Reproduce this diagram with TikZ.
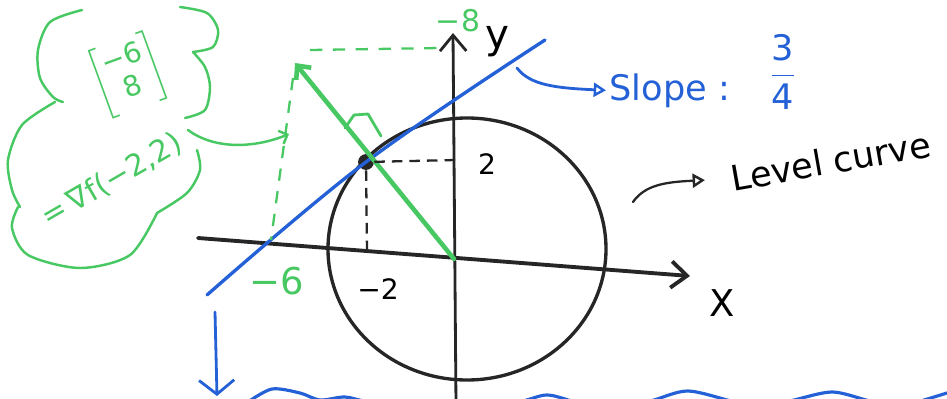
\documentclass[tikz,border=0pt]{standalone}
\usepackage{amsmath}
\usepackage{fontspec}
\setmainfont{DejaVu Sans}
\usetikzlibrary{positioning, calc, arrows.meta}
\definecolor{penGreen}{RGB}{72, 200, 98}
\definecolor{penBlue}{RGB}{36, 96, 214}
\definecolor{penBlack}{RGB}{38, 38, 38}
\tikzset{
  axisline/.style={draw=penBlack, line width=2.2pt, line cap=round},
  levelcurve/.style={draw=penBlack, line width=1.9pt},
  tangentline/.style={draw=penBlue, line width=1.9pt, line cap=round},
  normalline/.style={draw=penGreen, line width=2.6pt, line cap=round},
  greenpen/.style={draw=penGreen, line width=1.4pt, line cap=round, line join=round},
  bluepen/.style={draw=penBlue, line width=1.6pt, line cap=round},
  blackpen/.style={draw=penBlack, line width=1.3pt, line cap=round},
  blackdash/.style={draw=penBlack, line width=1.3pt, dash pattern=on 6pt off 4pt},
  greendash/.style={draw=penGreen, line width=1.3pt, dash pattern=on 7pt off 6pt},
  penlabel/.style={inner sep=0pt, outer sep=2pt, font=\fontsize{20}{22}\selectfont},
}

\begin{document}
\begin{tikzpicture}[
    x=0.02cm, y=-0.02cm,
    axisarrow/.style={-{Straight Barb[length=9pt, width=15pt]}},
    opentri/.style={-{Triangle[open, length=7pt, width=8pt, line width=1.4pt]}},
  ]
    \useasboundingbox (0,0) rectangle (947,399);

    % axes
    \coordinate (O)       at (454,259);
    \coordinate (xstart)  at (198,238);
    \coordinate (xend)    at (690,276);
    \coordinate (ybottom) at (456,405);
    \coordinate (yend)    at (453,33);
    \draw[axisline, axisarrow] (xstart) -- (xend);
    \draw[axisline, line width=1.6pt, axisarrow] (ybottom) -- (yend);
    \node[penlabel, font=\fontsize{21}{23}\selectfont] (xlabel) at (722,303) {X};
    \node[penlabel, font=\fontsize{23}{25}\selectfont] (ylabel) at (497,42) {y};

    % level curve
    \draw[levelcurve] (467,249) ellipse [x radius=139, y radius=131];

    % tangent line
    \coordinate (tanlow)  at (207,295);
    \coordinate (tanhigh) at (545,40);
    \node[circle, fill=penBlack, minimum size=9pt, inner sep=0pt] (P) at (366,162) {};
    \draw[tangentline] plot[smooth, tension=0.6] coordinates {(tanlow) (P.center) (tanhigh)};

    % gradient direction
    \coordinate (gtip) at (295,63);
    \draw[normalline, -{Straight Barb[length=6pt, width=11pt]}] (O) -- (gtip);
    \draw[greenpen, line width=1.6pt] (345,128) -- (354,115) -- (368,114) -- (381,136);

    % point (-2,2)
    \coordinate (Py) at (456,160);
    \coordinate (Px) at (367,252);
    \draw[blackdash] (P) -- (Py);
    \draw[blackdash] (P) -- (Px);
    \node[penlabel, font=\fontsize{16}{18}\selectfont] (ytwo) at (487,164) {2};
    \node[penlabel, font=\fontsize{16}{18}\selectfont] (xtwo) at (378,289) {−2};

    % components of the gradient
    \coordinate (gtop)   at (293,78);
    \coordinate (gx)     at (271,240);
    \coordinate (gleft)  at (310,50);
    \coordinate (gright) at (440,48);
    \draw[greendash] (gtop) -- (gx);
    \draw[greendash] (gleft) -- (gright);
    \node[penlabel, text=penGreen, font=\fontsize{21}{23}\selectfont] (xsix) at (277,281) {−6};
    \node[penlabel, text=penGreen, font=\fontsize{17}{19}\selectfont] (yeight) at (458,21) {−8};

    % cloud
    \draw[greenpen] plot[smooth] coordinates {(82,10) (50,22) (38,50) (40,78) (53,97) (63,102)};
    \draw[greenpen] plot[smooth] coordinates {(55,102) (22,125) (8,160) (12,190) (20,207)};
    \draw[greenpen] plot[smooth] coordinates {(18,207) (12,228) (28,255) (80,268) (130,255) (157,213)};
    \draw[greenpen] plot[smooth] coordinates {(157,213) (187,193) (200,170) (197,150)};
    \draw[greenpen] plot[smooth] coordinates {(193,52) (205,67) (210,87) (205,110) (185,118)};
    \draw[greenpen] plot[smooth] coordinates {(180,7) (207,13) (218,30) (213,47) (193,52)};
    \node[penlabel, text=penGreen, rotate=20, font=\fontsize{16}{18}\selectfont] (gradvec) at (128,75)
         {\(\left[\begin{tabular}{@{}c@{}}−6\\8\end{tabular}\right]\)};
    \node[penlabel, text=penGreen, rotate=30, font=\fontsize{17}{19}\selectfont] (gradeq) at (112,180) {=\,∇f(−2,2)};

    \coordinate (cloudout) at (188,130);
    \coordinate (gmark)    at (289,134);
    \draw[greenpen, -{Straight Barb[length=4pt, width=8pt]}] (cloudout)
         .. controls (215,150) and (255,148) .. (gmark);

    % slope
    \coordinate (slopefrom) at (517,68);
    \node[penlabel, text=penBlue, anchor=base west] (slope) at (606,100) {Slope :};
    \node[penlabel, text=penBlue] (slopefrac) at (783,72) {\(\dfrac{\text{3}}{\text{4}}\)};
    \draw[bluepen, opentri] (slopefrom) .. controls (530,85) and (555,88) .. (slope.west);

    % level curve label
    \coordinate (lcfrom) at (633,202);
    \node[penlabel, rotate=10, anchor=base west] (level) at (730,192) {Level curve};
    \draw[blackpen, opentri, shorten >=13pt] (lcfrom) .. controls (645,185) and (665,182) .. (level.west);

    % continues below
    \coordinate (downfrom) at (215,312);
    \coordinate (downto)   at (217,396);
    \draw[bluepen, -{Straight Barb[length=8pt, width=20pt]}] (downfrom) -- (downto);
    \draw[bluepen, line width=1.8pt] plot[smooth] coordinates {(248,402) (272,389) (300,393) (320,400)
         (345,397) (370,402) (450,412) (518,402) (547,395) (576,402) (620,410) (654,400)
         (688,391) (731,401) (760,408) (794,400) (832,392) (866,400) (895,408) (924,400) (947,393)};
  \end{tikzpicture}
\end{document}
